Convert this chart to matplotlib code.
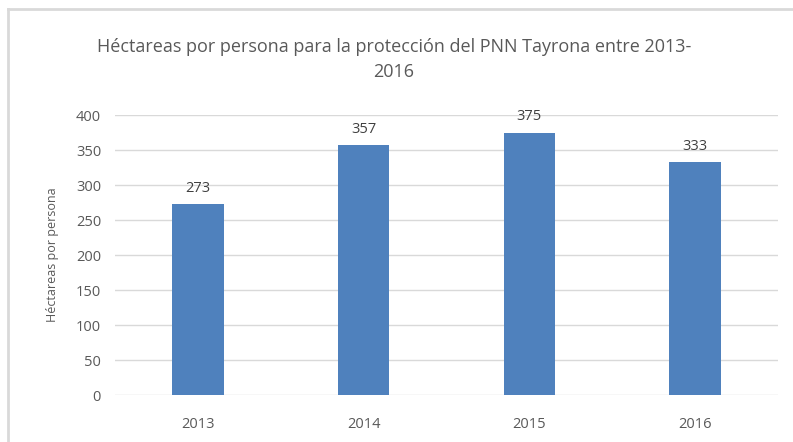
import matplotlib.pyplot as plt
from matplotlib.lines import Line2D

years = ["2013", "2014", "2015", "2016"]
hectareas = [273, 357, 375, 333]
yticks = [0, 50, 100, 150, 200, 250, 300, 350, 400]

plt.rcParams['font.family'] = ['Open Sans', 'DejaVu Sans']
gris = "#595959"

fig = plt.figure(figsize=(7.93, 4.42), dpi=100)
ax = fig.add_axes([0.145, 0.1063, 0.836, 0.6335])

x = range(len(years))
bars = ax.bar(x, hectareas, width=0.31, color="#4F81BD", zorder=3)
for b, v in zip(bars, hectareas):
    ax.text(b.get_x() + b.get_width() / 2, v + 12, str(v), ha="center", va="bottom",
            fontsize=10.5, color="#404040")

ax.set_xlim(-0.5, len(years) - 0.5)
ax.set_ylim(0, 400)
ax.set_xticks(list(x))
ax.set_xticklabels(years)
ax.set_yticks(yticks)
ax.grid(axis="y", color="#d9d9d9", linewidth=1, zorder=0)
ax.tick_params(length=0, labelsize=10.5, labelcolor=gris, pad=10)
ax.tick_params(axis="x", pad=16)
for s in ax.spines.values():
    s.set_visible(False)

ax.set_ylabel("Héctareas por persona", fontsize=9, color=gris, labelpad=12)

fig.text(0.497, 0.915, "Héctareas por persona para la protección del PNN Tayrona entre 2013-\n2016",
         ha="center", va="top", fontsize=13, color=gris, linespacing=1.55)

# marco del grafico (solo arriba e izquierda visibles)
fig.add_artist(Line2D([8 / 793, 1], [1 - 9 / 442, 1 - 9 / 442], color="#d9d9d9", linewidth=2))
fig.add_artist(Line2D([8 / 793, 8 / 793], [0, 1 - 9 / 442], color="#d9d9d9", linewidth=2))

fig.savefig("out.png", dpi=100)
